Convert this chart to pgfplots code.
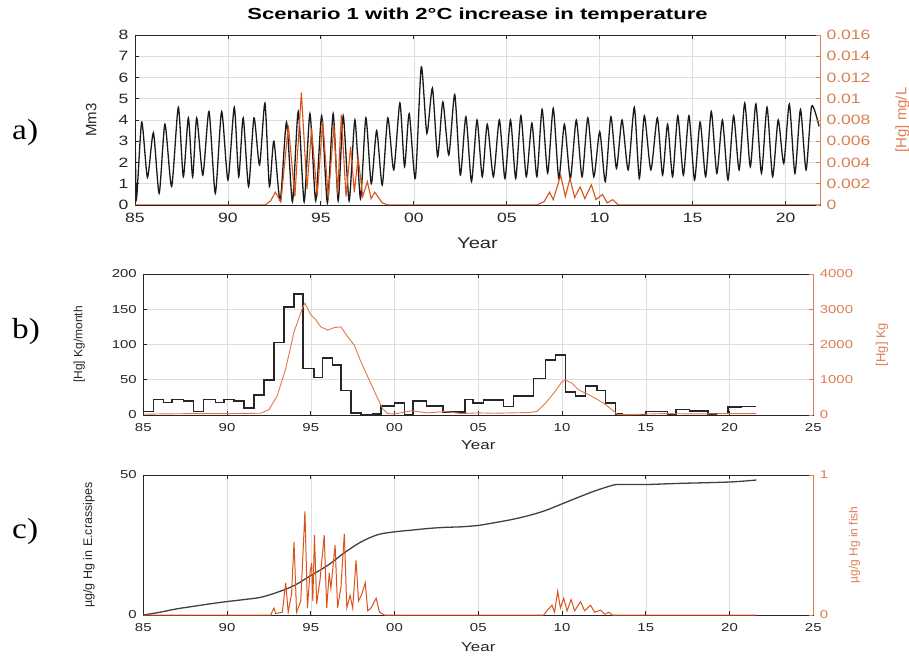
\documentclass[border=0pt]{standalone}
\usepackage{pgfplots}
\pgfplotsset{compat=1.18}
\usepackage{fontspec}
\setmainfont{Liberation Sans}[FakeStretch=1.3]
\newfontfamily\plainsans{Liberation Sans}
\newfontfamily\titlefont{Liberation Sans}[FakeStretch=1.38]
\newfontfamily\panelfont{Liberation Serif}[FakeStretch=1.15]
\definecolor{mblack}{HTML}{1A1A1A}
\definecolor{morange}{HTML}{D95319}
\definecolor{lorange}{HTML}{E2774A}
\definecolor{tickorange}{HTML}{DC7F55}
\definecolor{axgray}{HTML}{262626}
\pgfplotsset{
  base/.style={scale only axis, anchor=south west,
    axis line style={axgray, line width=0.9pt},
    tick align=inside, major tick length=4pt,
    tick style={axgray, line width=0.8pt},
    grid style={black!13, line width=0.6pt},
    scaled ticks=false,
    xticklabel style={yshift=-5pt},
    yticklabel style={xshift=-3pt}},
  rightax/.style={base, axis y line*=right, axis x line=none,
    y axis line style={tickorange, line width=0.9pt},
    ytick style={tickorange, line width=0.8pt},
    yticklabel style={text=tickorange, xshift=6pt}},
}
\begin{document}
\begin{tikzpicture}
\useasboundingbox (0,0) rectangle (909pt,656pt);
% ---------------- panel a ----------------
\begin{axis}[base, at={(135pt,451pt)}, width=685pt, height=170pt,
  xmin=85, xmax=121.85, ymin=0, ymax=8,
  xtick={85,90,95,100,105,110,115,120}, xticklabels={85,90,95,00,05,10,15,20},
  ytick={0,1,2,3,4,5,6,7,8}, yticklabels={0,1,2,3,4,5,6,7,8},
  ytick pos=left, grid=major,
  ticklabel style={font=\fontsize{13.5}{14}\selectfont, text=axgray},
  xlabel={Year}, xlabel style={at={(rel axis cs:0.5,0)}, anchor=north, yshift=-29pt, font=\fontsize{15.5}{16}\selectfont, text=axgray},
  ylabel={Mm3}, ylabel style={at={(rel axis cs:0,0.5)}, anchor=south, yshift=35pt, font=\plainsans\fontsize{15}{16}\selectfont, text=axgray},
  title={Scenario 1 with 2°C increase in temperature},
  title style={at={(rel axis cs:0.5,1)}, anchor=base, yshift=9pt, font=\titlefont\bfseries\fontsize{16}{17}\selectfont, text=black}]
\addplot[mblack, line width=1.3pt, smooth, tension=0.4] coordinates {
(85.00,3.9) (85.08,0.3) (85.36,3.9) (85.67,1.3) (85.99,3.4) (86.30,0.55) (86.61,3.8) (86.97,0.87) (87.33,4.6) (87.60,1.33) (87.87,4.1) (88.10,1.33) (88.32,4.1) (88.65,1.41) (88.98,4.4) (89.32,0.55) (89.66,4.4) (90.00,1.18) (90.34,4.6) (90.58,1.33) (90.82,4.1) (91.11,0.87) (91.40,4.1) (91.70,1.88) (91.99,4.8) (92.23,0.87) (92.47,3.0) (92.81,0.2) (93.15,3.9) (93.47,0.15) (93.78,4.4) (94.10,0.15) (94.41,4.3) (94.72,0.2) (95.04,4.2) (95.35,0.1) (95.66,4.3) (95.93,0.2) (96.20,4.2) (96.52,0.2) (96.83,4.0) (97.13,0.3) (97.42,4.1) (97.71,1.0) (98.00,3.5) (98.30,0.94) (98.60,4.1) (98.92,1.65) (99.25,4.8) (99.50,1.8) (99.75,4.3) (100.08,1.25) (100.40,6.5) (100.70,3.37) (101.00,5.5) (101.28,2.28) (101.56,4.85) (101.88,2.35) (102.20,5.2) (102.50,1.41) (102.80,4.15) (103.10,1.1) (103.40,4.0) (103.68,1.33) (103.95,3.8) (104.28,1.33) (104.60,4.0) (104.90,1.25) (105.20,4.0) (105.48,1.25) (105.76,4.2) (106.05,1.33) (106.35,3.85) (106.62,1.33) (106.90,4.5) (107.20,1.5) (107.50,4.55) (107.80,1.25) (108.10,3.8) (108.42,1.25) (108.74,4.0) (109.05,1.33) (109.36,4.1) (109.68,1.33) (110.00,3.45) (110.30,1.1) (110.60,4.15) (110.90,1.72) (111.20,4.0) (111.53,1.65) (111.86,4.6) (112.13,1.25) (112.40,4.2) (112.75,1.65) (113.10,4.1) (113.38,1.41) (113.65,3.8) (113.92,1.33) (114.20,4.2) (114.50,1.41) (114.80,4.2) (115.10,1.18) (115.40,3.9) (115.70,1.33) (116.00,4.4) (116.30,1.49) (116.60,4.0) (116.90,1.18) (117.20,4.2) (117.50,1.65) (117.80,4.8) (118.10,1.8) (118.40,4.75) (118.70,1.49) (119.00,4.6) (119.30,1.33) (119.60,4.0) (119.90,1.96) (120.20,4.75) (120.50,1.49) (120.80,4.5) (121.10,1.65) (121.40,4.65) (121.80,3.7)};
\node[anchor=south west, inner sep=0pt, yshift=3pt, text=gray, font=\fontsize{12}{12}\selectfont] at (rel axis cs:0,1) {×10\textsuperscript{8}};
\end{axis}
\begin{axis}[rightax, at={(135pt,451pt)}, width=685pt, height=170pt,
  xmin=85, xmax=121.85, ymin=0, ymax=0.016,
  ytick={0,0.002,0.004,0.006,0.008,0.01,0.012,0.014,0.016},
  yticklabels={0,0.002,0.004,0.006,0.008,0.01,0.012,0.014,0.016},
  ticklabel style={font=\fontsize{13.5}{14}\selectfont},
  ylabel={[Hg] mg/L}, ylabel style={at={(rel axis cs:1,0.5)}, anchor=north, yshift=-72pt, font=\plainsans\fontsize{15}{16}\selectfont, text=tickorange}]
\addplot[morange, line width=1.1pt] coordinates {
(85,0) (92.0,0) (92.3,0.0004) (92.55,0.0012) (92.85,0.0003) (93.25,0.0075) (93.6,0.0008) (93.95,0.0106) (94.25,0.0015) (94.5,0.0072) (94.8,0.0008) (95.1,0.0079) (95.4,0.0006) (95.7,0.0075) (95.9,0.001) (96.1,0.0085) (96.35,0.0008) (96.6,0.0055) (96.8,0.0012) (97.0,0.0045) (97.25,0.0008) (97.5,0.0022) (97.7,0.0006) (97.9,0.0012) (98.1,0.0007) (98.3,0.0002) (98.6,0) (106.6,0) (107.0,0.0003) (107.3,0.0012) (107.5,0.0005) (107.9,0.0028) (108.15,0.0008) (108.4,0.0025) (108.65,0.0007) (108.95,0.0017) (109.2,0.0006) (109.55,0.0019) (109.8,0.0005) (110.15,0.0010) (110.4,0.0002) (110.7,0.0005) (111.0,0) (121.85,0)};
\end{axis}
% ---------------- panel b ----------------
\begin{axis}[base, at={(143.3pt,241pt)}, width=670pt, height=141pt,
  xmin=85, xmax=125, ymin=0, ymax=200,
  xtick={85,90,95,100,105,110,115,120,125}, xticklabels={85,90,95,00,05,10,15,20,25},
  ytick={0,50,100,150,200}, yticklabels={0,50,100,150,200},
  ytick pos=left, grid=major,
  ticklabel style={font=\fontsize{11.5}{12}\selectfont, text=axgray},
  xlabel={Year}, xlabel style={at={(rel axis cs:0.5,0)}, anchor=north, yshift=-22pt, font=\fontsize{13}{14}\selectfont, text=axgray},
  ylabel={[Hg] Kg/month}, ylabel style={at={(rel axis cs:0,0.5)}, anchor=south, yshift=55pt, font=\plainsans\fontsize{12}{13}\selectfont, text=axgray}]
\addplot[black!85, line width=1.6pt, const plot] coordinates {
(85.0,5) (85.6,22) (86.2,18) (86.7,22) (87.4,20) (88.0,5) (88.6,22) (89.3,18) (89.8,22) (90.4,20) (91.0,10) (91.6,28) (92.2,50) (92.8,103) (93.4,153) (94.0,172) (94.52,66) (95.2,53) (95.7,81) (96.3,71) (96.8,35) (97.4,3) (98.0,0) (98.7,1) (99.2,12.8) (100.0,16.6) (100.6,0.5) (101.1,20) (101.9,13) (102.9,4) (104.2,22) (104.7,17) (105.3,21) (106.5,12) (107.1,27) (108.3,52) (109.0,78) (109.6,85) (110.2,33) (110.8,27) (111.4,41) (112.1,35) (112.6,17) (113.2,1.4) (113.6,0) (115.0,5) (116.3,0) (116.8,8) (117.6,6) (118.7,1) (119.2,2) (119.9,11) (120.7,12) (121.6,12)};
\end{axis}
\begin{axis}[rightax, at={(143.3pt,241pt)}, width=670pt, height=141pt,
  xmin=85, xmax=125, ymin=0, ymax=4000,
  ytick={0,1000,2000,3000,4000}, yticklabels={0,1000,2000,3000,4000},
  ticklabel style={font=\fontsize{11.5}{12}\selectfont},
  ylabel={[Hg] Kg}, ylabel style={at={(rel axis cs:1,0.5)}, anchor=north, yshift=-59pt, font=\plainsans\fontsize{13}{14}\selectfont, text=tickorange}]
\addplot[lorange, line width=0.9pt] coordinates {
(85.0,20) (86,30) (88,40) (90,40) (92,50) (92.5,150) (93.0,550) (93.5,1310) (94.0,2360) (94.5,3030) (94.65,3170) (95.0,2840) (95.3,2700) (95.6,2500) (96.0,2410) (96.4,2480) (96.8,2500) (97.2,2220) (97.6,1980) (98.0,1500) (98.5,980) (99.0,460) (99.3,170) (99.6,40) (100.0,30) (101,120) (102,60) (103,100) (104,40) (105,60) (106,50) (107,60) (108.0,70) (108.5,100) (109.0,330) (109.5,615) (110.0,945) (110.2,990) (110.6,900) (111.0,710) (111.5,600) (112.0,470) (112.5,330) (113.0,140) (113.3,20) (114,10) (116,40) (118,30) (120,40) (121.6,40)};
\end{axis}
% ---------------- panel c ----------------
\begin{axis}[base, at={(143.3pt,41pt)}, width=670pt, height=140pt,
  xmin=85, xmax=125, ymin=0, ymax=50,
  xtick={85,90,95,100,105,110,115,120,125}, xticklabels={85,90,95,00,05,10,15,20,25},
  ytick={0,50}, yticklabels={0,50},
  ytick pos=left, xmajorgrids,
  ticklabel style={font=\fontsize{11.5}{12}\selectfont, text=axgray},
  xlabel={Year}, xlabel style={at={(rel axis cs:0.5,0)}, anchor=north, yshift=-24pt, font=\fontsize{13}{14}\selectfont, text=axgray},
  ylabel={µg/g Hg in E.crassipes}, ylabel style={at={(rel axis cs:0,0.5)}, anchor=south, yshift=45pt, font=\plainsans\fontsize{12.5}{13}\selectfont, text=axgray}]
\addplot[black!75, line width=1.3pt, smooth] coordinates {
(85.0,0) (86,1) (87,2.2) (88,3.1) (89,4.0) (90,4.8) (91,5.5) (92,6.3) (93,8.1) (94,10.5) (95,14.1) (96,17.7) (97,22.2) (98,26.1) (99,28.7) (100,29.7) (101,30.3) (102,30.9) (103,31.3) (104,31.5) (105,32.0) (106,33.0) (107,34.1) (108,35.5) (109,37.3) (110,39.7) (111,42.1) (112,44.4) (113,46.3) (113.4,46.6) (115,46.6) (117,47.0) (120,47.5) (121.6,48.2)};
\end{axis}
\begin{axis}[rightax, at={(143.3pt,41pt)}, width=670pt, height=140pt,
  xmin=85, xmax=125, ymin=0, ymax=1,
  ytick={0,1}, yticklabels={0,1},
  ticklabel style={font=\fontsize{11.5}{12}\selectfont},
  ylabel={µg/g Hg in fish}, ylabel style={at={(rel axis cs:1,0.5)}, anchor=north, yshift=-32pt, font=\plainsans\fontsize{12}{13}\selectfont, text=tickorange}]
\addplot[morange, line width=1pt] coordinates {
(85,0) (92.6,0) (92.8,0.05) (92.9,0.01) (93.3,0.02) (93.5,0.23) (93.65,0.02) (93.85,0.15) (94.0,0.52) (94.15,0.02) (94.4,0.1) (94.65,0.74) (94.8,0.05) (94.95,0.3) (95.05,0.37) (95.12,0.1) (95.22,0.57) (95.35,0.08) (95.55,0.25) (95.8,0.57) (95.95,0.05) (96.1,0.3) (96.2,0.19) (96.45,0.5) (96.6,0.05) (96.8,0.2) (97.0,0.58) (97.15,0.05) (97.35,0.14) (97.5,0.05) (97.7,0.39) (97.85,0.1) (98.05,0.15) (98.25,0.23) (98.4,0.03) (98.6,0.05) (98.9,0.12) (99.1,0.02) (99.4,0) (108.9,0) (109.1,0.03) (109.4,0.07) (109.55,0.02) (109.74,0.17) (109.9,0.05) (110.1,0.12) (110.3,0.03) (110.54,0.11) (110.75,0.03) (111.1,0.095) (111.35,0.03) (111.7,0.07) (111.95,0.02) (112.3,0.035) (112.55,0.005) (112.8,0.02) (113.0,0) (121.6,0)};
\end{axis}
% panel letters
\node[font=\panelfont\fontsize{29}{30}\selectfont, anchor=west, inner sep=0pt] at (12pt,523pt) {a)};
\node[font=\panelfont\fontsize{29}{30}\selectfont, anchor=west, inner sep=0pt] at (12pt,324pt) {b)};
\node[font=\panelfont\fontsize{29}{30}\selectfont, anchor=west, inner sep=0pt] at (12pt,124pt) {c)};
\end{tikzpicture}
\end{document}
